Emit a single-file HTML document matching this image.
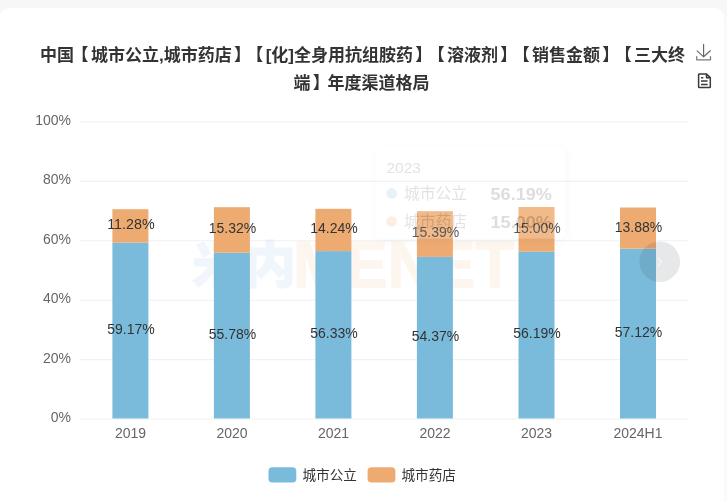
<!DOCTYPE html>
<html lang="zh-CN"><head><meta charset="utf-8"><title>年度渠道格局</title>
<style>
html,body{margin:0;padding:0;background:#f7f7f7;}
body{width:727px;height:502px;overflow:hidden;position:relative;font-family:"Liberation Sans","Noto Sans CJK SC",sans-serif;}
.card{position:absolute;left:0;top:8px;width:723.5px;height:520px;background:#fff;border-radius:9px 9px 0 0;}
.rs{position:absolute;left:723.5px;top:18px;width:4px;height:490px;background:#fafafa;}
svg{position:absolute;left:0;top:0;}
text{font-family:"Liberation Sans","Noto Sans CJK SC",sans-serif;}
.t{text-spacing-trim:space-all;font-weight:bold;font-size:17px;fill:#333;text-anchor:middle;}
.ax{font-size:14.7px;fill:#666;}
.dl{font-size:14.7px;fill:#333;}
.lg{font-size:13.6px;fill:#333;}
</style></head><body>
<div class="card"></div><div class="rs"></div>
<svg width="727" height="502" viewBox="0 0 727 502">
<text class="t" x="362.5" y="60.5" dx="0 0 -2.4 2.4 0 0 0 0 0 0 0 0 2.2 -4.6 2.4 0 0 0 0 0 0 0 0 0 2.2 -4.6 2.4 0 0 2.2 -4.6 2.4 0 0 0 2.2 -4.6 2.4 0 0">中国【城市公立,城市药店】【[化]全身用抗组胺药】【溶液剂】【销售金额】【三大终</text>
<text class="t" x="361.5" y="88.5" dx="0 2.2 -2.2 0 0 0 0 0">端】年度渠道格局</text>
<line x1="79.7" x2="688.7" y1="419.0" y2="419.0" stroke="#f1f1f1" stroke-width="1.1"/>
<text class="ax" x="50.77" y="421.95" textLength="20.23" lengthAdjust="spacingAndGlyphs">0%</text>
<line x1="79.7" x2="688.7" y1="359.6" y2="359.6" stroke="#f1f1f1" stroke-width="1.1"/>
<text class="ax" x="42.99" y="362.55" textLength="28.01" lengthAdjust="spacingAndGlyphs">20%</text>
<line x1="79.7" x2="688.7" y1="300.2" y2="300.2" stroke="#f1f1f1" stroke-width="1.1"/>
<text class="ax" x="42.99" y="303.15" textLength="28.01" lengthAdjust="spacingAndGlyphs">40%</text>
<line x1="79.7" x2="688.7" y1="240.8" y2="240.8" stroke="#f1f1f1" stroke-width="1.1"/>
<text class="ax" x="42.99" y="243.75" textLength="28.01" lengthAdjust="spacingAndGlyphs">60%</text>
<line x1="79.7" x2="688.7" y1="181.4" y2="181.4" stroke="#f1f1f1" stroke-width="1.1"/>
<text class="ax" x="42.99" y="184.35" textLength="28.01" lengthAdjust="spacingAndGlyphs">80%</text>
<line x1="79.7" x2="688.7" y1="122.0" y2="122.0" stroke="#f1f1f1" stroke-width="1.1"/>
<text class="ax" x="35.20" y="124.95" textLength="35.80" lengthAdjust="spacingAndGlyphs">100%</text>
<text x="192" y="283" font-size="50" font-weight="900" fill="#4a98dc" stroke="#4a98dc" stroke-width="1" opacity="0.08" textLength="104" lengthAdjust="spacingAndGlyphs">米内</text><text x="293" y="287" font-size="64" font-weight="bold" fill="#f08a30" stroke="#f08a30" stroke-width="1.6" opacity="0.07" textLength="221" lengthAdjust="spacingAndGlyphs">MENET</text>
<rect x="112.4" y="242.7" width="36" height="175.8" fill="#7abbdb"/>
<rect x="112.4" y="209.2" width="36" height="33.5" fill="#edab72"/>
<text class="ax" x="114.88" y="438.00" textLength="31.14" lengthAdjust="spacingAndGlyphs">2019</text>
<rect x="213.9" y="252.7" width="36" height="165.8" fill="#7abbdb"/>
<rect x="213.9" y="207.2" width="36" height="45.5" fill="#edab72"/>
<text class="ax" x="216.38" y="438.00" textLength="31.14" lengthAdjust="spacingAndGlyphs">2020</text>
<rect x="315.4" y="251.1" width="36" height="167.4" fill="#7abbdb"/>
<rect x="315.4" y="208.8" width="36" height="42.3" fill="#edab72"/>
<text class="ax" x="317.88" y="438.00" textLength="31.14" lengthAdjust="spacingAndGlyphs">2021</text>
<rect x="416.9" y="256.9" width="36" height="161.6" fill="#7abbdb"/>
<rect x="416.9" y="211.2" width="36" height="45.7" fill="#edab72"/>
<text class="ax" x="419.38" y="438.00" textLength="31.14" lengthAdjust="spacingAndGlyphs">2022</text>
<rect x="518.5" y="251.5" width="36" height="167.0" fill="#7abbdb"/>
<rect x="518.5" y="207.0" width="36" height="44.6" fill="#edab72"/>
<text class="ax" x="520.88" y="438.00" textLength="31.14" lengthAdjust="spacingAndGlyphs">2023</text>
<rect x="620.0" y="248.8" width="36" height="169.7" fill="#7abbdb"/>
<rect x="620.0" y="207.5" width="36" height="41.2" fill="#edab72"/>
<text class="ax" x="613.44" y="438.00" textLength="49.03" lengthAdjust="spacingAndGlyphs">2024H1</text>
<text class="dl" x="107.21" y="333.93" textLength="47.47" lengthAdjust="spacingAndGlyphs">59.17%</text>
<text class="dl" x="107.21" y="229.31" textLength="47.47" lengthAdjust="spacingAndGlyphs">11.28%</text>
<text class="dl" x="208.71" y="338.97" textLength="47.47" lengthAdjust="spacingAndGlyphs">55.78%</text>
<text class="dl" x="208.71" y="233.38" textLength="47.47" lengthAdjust="spacingAndGlyphs">15.32%</text>
<text class="dl" x="310.21" y="338.15" textLength="47.47" lengthAdjust="spacingAndGlyphs">56.33%</text>
<text class="dl" x="310.21" y="233.35" textLength="47.47" lengthAdjust="spacingAndGlyphs">14.24%</text>
<text class="dl" x="411.71" y="341.06" textLength="47.47" lengthAdjust="spacingAndGlyphs">54.37%</text>
<text class="dl" x="411.71" y="237.47" textLength="47.47" lengthAdjust="spacingAndGlyphs">15.39%</text>
<text class="dl" x="513.21" y="338.36" textLength="47.47" lengthAdjust="spacingAndGlyphs">56.19%</text>
<text class="dl" x="513.21" y="232.64" textLength="47.47" lengthAdjust="spacingAndGlyphs">15.00%</text>
<text class="dl" x="614.71" y="336.98" textLength="47.47" lengthAdjust="spacingAndGlyphs">57.12%</text>
<text class="dl" x="614.71" y="231.54" textLength="47.47" lengthAdjust="spacingAndGlyphs">13.88%</text>
<rect x="268.5" y="467.3" width="27.8" height="15.2" rx="3.8" fill="#7abbdb"/><text class="lg" x="302.5" y="479.6">城市公立</text>
<rect x="367.6" y="467.3" width="27.8" height="15.2" rx="3.8" fill="#edab72"/><text class="lg" x="401.5" y="479.6">城市药店</text>
<g fill="none" stroke-linecap="round" stroke-linejoin="round"><path d="M703.6 44.300v12.400M697.100 50.800l6.500 6l6.700-6" stroke="#666" stroke-width="1.150"/><path d="M696.700 56.600v3.200h13.800v-3.200" stroke="#7a7a7a" stroke-width="1.250"/><path d="M699.300 74.100h7.300l3.700 3.500v9.300q0 .700-.700 .700h-10.300q-.700 0-.700-.700v-12.100q0-.700 .700-.700zM706.500 74.300v3.500h3.600" stroke="#3a3a3a" stroke-width="1.500"/><path d="M701 77.800h2.300M701 81.100h6.600M701 84.500h6.600" stroke="#3a3a3a" stroke-width="1.500" stroke-linecap="butt"/></g>
<defs><filter id="sh" x="-20%" y="-20%" width="140%" height="150%"><feDropShadow dx="1" dy="2" stdDeviation="5" flood-color="#000" flood-opacity="0.2"/></filter></defs>
<g opacity="0.18">
<rect x="375.5" y="146.500" width="190" height="92" rx="4.500" fill="#fff" filter="url(#sh)"/>
<text x="386.500" y="172.700" font-size="15.500" fill="#666">2023</text>
<circle cx="391.600" cy="193.400" r="5.300" fill="#7cbcdb"/><text x="404" y="199.400" font-size="15.750" fill="#666">城市公立</text><text x="490.500" y="199.700" font-size="16.300" font-weight="bold" fill="#464646" textLength="61.500" lengthAdjust="spacingAndGlyphs">56.19%</text>
<circle cx="391.600" cy="221.500" r="5.300" fill="#eeaa74"/><text x="404" y="227.400" font-size="15.750" fill="#666">城市药店</text><text x="490.500" y="227.700" font-size="16.300" font-weight="bold" fill="#464646" textLength="61.500" lengthAdjust="spacingAndGlyphs">15.00%</text>
</g>
<circle cx="659.700" cy="261.700" r="20.300" fill="#1c2a38" fill-opacity="0.105"/><path d="M658.300 258.300l3.200 3.500-3.200 3.500" fill="none" stroke="#fff" stroke-opacity="0.75" stroke-width="1.100"/>
</svg></body></html>
